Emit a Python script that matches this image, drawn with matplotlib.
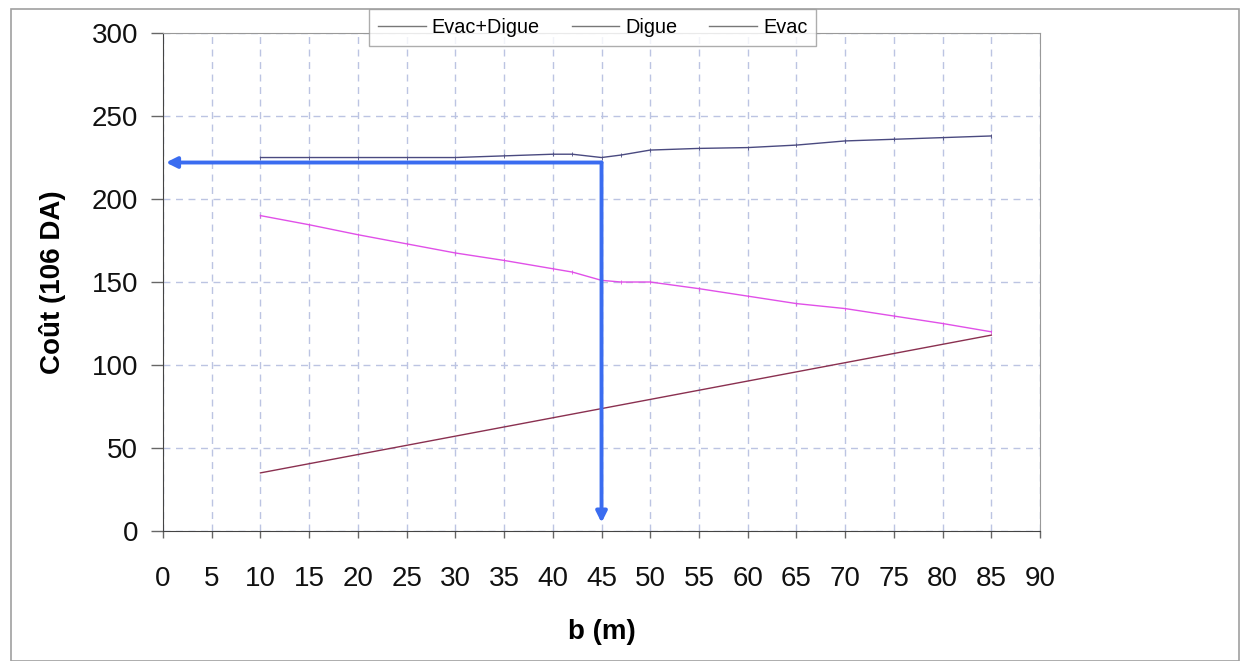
import matplotlib
matplotlib.use("Agg")
import matplotlib.pyplot as plt
from matplotlib.lines import Line2D
from matplotlib.patches import Rectangle

plt.rcParams['font.family'] = ['Liberation Sans', 'DejaVu Sans']

b = [10, 15, 20, 25, 30, 35, 40, 42, 45, 47, 50, 55, 60, 65, 70, 75, 80, 85]
evac_digue = [225, 225, 225, 225, 225, 226, 227, 227, 225, 226.5, 229.5, 230.5, 231, 232.5, 235, 236, 237, 238]
digue = [190, 184.5, 178.5, 173, 167.5, 163, 158, 156, 151, 150, 150, 146, 141.5, 137, 134, 129.5, 125, 120]
evac_b = [10, 85]
evac = [35, 118]

opt_b = 45
opt_cost = 222
labels = ['Evac+Digue', 'Digue', 'Evac']

fig = plt.figure(figsize=(12.49, 6.61), dpi=100)
fig.patches.append(Rectangle((0.009, 0.0), 0.983, 0.987, transform=fig.transFigure,
                             fill=False, edgecolor='#a0a0a0', linewidth=1.2))
ax = fig.add_axes([0.1305, 0.1967, 0.7022, 0.7533])

ax.plot(b, evac_digue, color='#4a4a80', lw=1.0, marker='|', ms=3, mew=0.6)
ax.plot(b, digue, color='#e050e8', lw=1.0, marker='|', ms=3, mew=0.6)
ax.plot(evac_b, evac, color='#8a3050', lw=1.0)

# optimum arrows
ax.annotate('', xy=(0.3, opt_cost), xytext=(opt_b, opt_cost),
            arrowprops=dict(arrowstyle='-|>', color='#3a6cf0', lw=2.8,
                            mutation_scale=16, shrinkA=0, shrinkB=0))
ax.annotate('', xy=(opt_b, 5), xytext=(opt_b, opt_cost),
            arrowprops=dict(arrowstyle='-|>', color='#3a6cf0', lw=2.8,
                            mutation_scale=16, shrinkA=0, shrinkB=0))

ax.set_xlim(0, 90)
ax.set_ylim(0, 300)
ax.set_xticks(range(0, 91, 5))
ax.set_yticks(range(0, 301, 50))
ax.grid(True, linestyle=(0, (5, 4)), color='#bcc4e2', lw=1.0)
ax.set_axisbelow(True)

ax.tick_params(axis='both', labelsize=20, colors='#111111', direction='out')
ax.tick_params(axis='y', length=9, width=1, color='#666666', pad=9)
ax.tick_params(axis='x', length=5, width=1, color='#666666', pad=20)
for s in ['top', 'right']:
    ax.spines[s].set_color('#999999')
for s in ['left', 'bottom']:
    ax.spines[s].set_color('#444444')

ax.set_xlabel('b (m)', fontsize=20, fontweight='bold', labelpad=20)
ax.set_ylabel('Coût (106 DA)', fontsize=20, fontweight='bold', labelpad=18)

handles = [Line2D([], [], color='#777777', lw=1) for _ in labels]
leg = ax.legend(handles, labels, loc='center', bbox_to_anchor=(0.49, 1.012), ncol=3,
                fontsize=14.3, frameon=True, fancybox=False, edgecolor='#999999',
                handlelength=2.4, handletextpad=0.3, columnspacing=1.6, borderpad=0.45)
leg.get_frame().set_linewidth(1.0)

fig.savefig('out.png', dpi=100, facecolor='white')
